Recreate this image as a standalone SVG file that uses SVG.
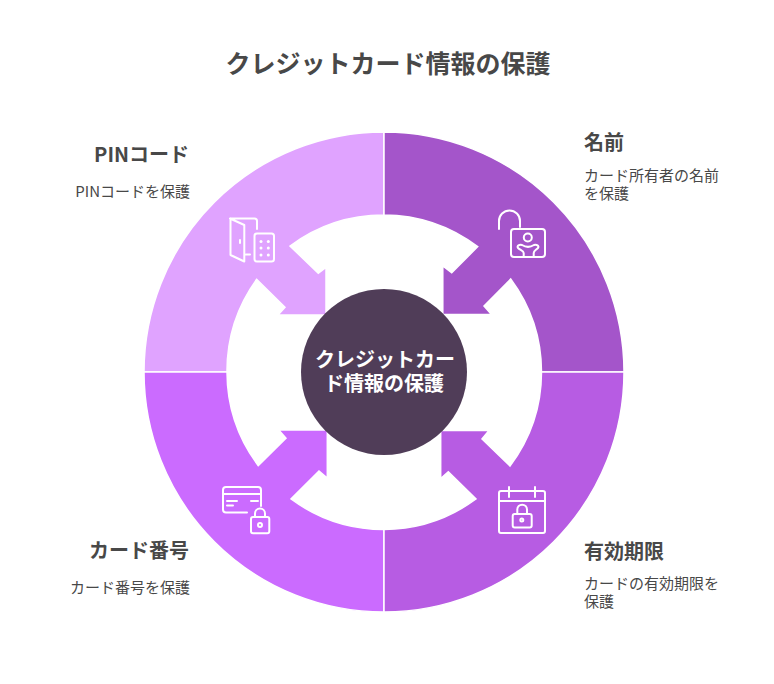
<svg xmlns="http://www.w3.org/2000/svg" width="774" height="684" viewBox="0 0 774 684">
<style>
text{font-family:"Noto Sans CJK JP","Noto Sans",sans-serif;fill:#484848}
.t{font-size:25px;font-weight:700}
.h{font-size:20px;font-weight:700}
.d{font-size:15px}
.c{font-size:20px;font-weight:700;fill:#fff}
.seg{stroke:#fff;stroke-width:1.500}
.i{fill:none;stroke:#fff;stroke-width:2;stroke-linecap:round;stroke-linejoin:round}
.p{fill:#fff}
</style>
<rect width="774" height="684" fill="#fff"/>
<text class="t" x="388" y="73" text-anchor="middle">クレジットカード情報の保護</text>
<g id="connectors"/>
<g id="node-pin">
<path class="seg" fill="#e0a3ff" d="M144 372A240 240 0 0 1 384 132V215A157 157 0 0 0 290 246L318.300 273.300L326 267.500V315H278L285 307.300L256.700 279.300A157 157 0 0 0 227 372Z"/>
<path class="i" d="M230 218.500L244.300 225V261.500L230.500 255V218.500H254.500Q257 218.500 257 221V229M246 254.500H250M240 240V243"/>
<rect class="i" x="254.500" y="233.500" width="19.500" height="28" rx="2.500"/>
<g class="p"><circle cx="261" cy="241.500" r="1.500"/><circle cx="268.300" cy="241.500" r="1.500"/><circle cx="261" cy="248" r="1.500"/><circle cx="268.300" cy="248" r="1.500"/><circle cx="261" cy="255" r="1.500"/><circle cx="268.300" cy="255" r="1.500"/></g>
<text class="h" x="189" y="162" text-anchor="end">PINコード</text>
<text class="d" x="190" y="197" text-anchor="end">PINコードを保護</text>
</g>
<g id="node-name">
<path class="seg" fill="#a455ca" d="M384 132A240 240 0 0 1 624 372H541.500A157 157 0 0 0 510.700 279L484 306L491.500 314.500H442.800V266L451.700 272.700L477.700 246.700A157 157 0 0 0 384 215Z"/>
<path class="i" d="M499 229V221A10.500 10.500 0 0 1 520 221V227"/>
<rect class="i" x="511" y="229" width="34" height="28" rx="3"/>
<circle class="i" cx="527.800" cy="237.500" r="4"/>
<path class="i" d="M523.700 256.500V253C523.700 251 520 250 518 248C516.500 246 519.500 244 522 245C526 247.500 530 247.500 534 245C536.500 244 539.500 246 538 248C536 250 533.700 251 533.700 253V256.500"/>
<text class="h" x="584" y="150">名前</text>
<text class="d" x="584" y="181">カード所有者の名前</text>
<text class="d" x="584" y="199">を保護</text>
</g>
<g id="node-card">
<path class="seg" fill="#cb6bff" d="M144 372H227A157 157 0 0 0 258.300 465.700L286 438.300L278.800 430H327.300V478L319 471L291 499A157 157 0 0 0 384 529.500V612A240 240 0 0 1 144 372Z"/>
<path class="i" d="M247 512.500H226Q223 512.500 223 509.500V490Q223 487 226 487H258Q261 487 261 490V506M223 494H261M227 501H237M227 505.500H233M251 501H258"/>
<rect class="i" x="251" y="517" width="18.300" height="16.300" rx="2"/>
<path class="i" d="M255 517V513.500A5 5 0 0 1 265 513.500V517"/>
<circle class="i" cx="260" cy="525" r="2"/>
<text class="h" x="189" y="558" text-anchor="end">カード番号</text>
<text class="d" x="190" y="593" text-anchor="end">カード番号を保護</text>
</g>
<g id="node-date">
<path class="seg" fill="#b75ce3" d="M624 372A240 240 0 0 1 384 612V529.500A157 157 0 0 0 476 499L448.300 471.700L440.700 478.500V430.500H489L482 439L510 466A157 157 0 0 0 541.500 372Z"/>
<rect class="i" x="499" y="491" width="46" height="42" rx="2"/>
<path class="i" d="M499 501H545M509 487V497M535 487V497"/>
<rect class="i" x="512.700" y="514" width="19" height="13.500" rx="2"/>
<path class="i" d="M517.300 514V509.500A4.850 4.850 0 0 1 527 509.500V514"/>
<circle class="i" cx="521.800" cy="520" r="1.500"/>
<text class="h" x="584" y="559">有効期限</text>
<text class="d" x="584" y="589">カードの有効期限を</text>
<text class="d" x="584" y="607">保護</text>
</g>
<g id="node-center">
<circle cx="384" cy="372" r="83" fill="#503d58"/>
<text class="c" x="385" y="367" text-anchor="middle">クレジットカー</text>
<text class="c" x="384" y="391" text-anchor="middle">ド情報の保護</text>
</g>
</svg>
